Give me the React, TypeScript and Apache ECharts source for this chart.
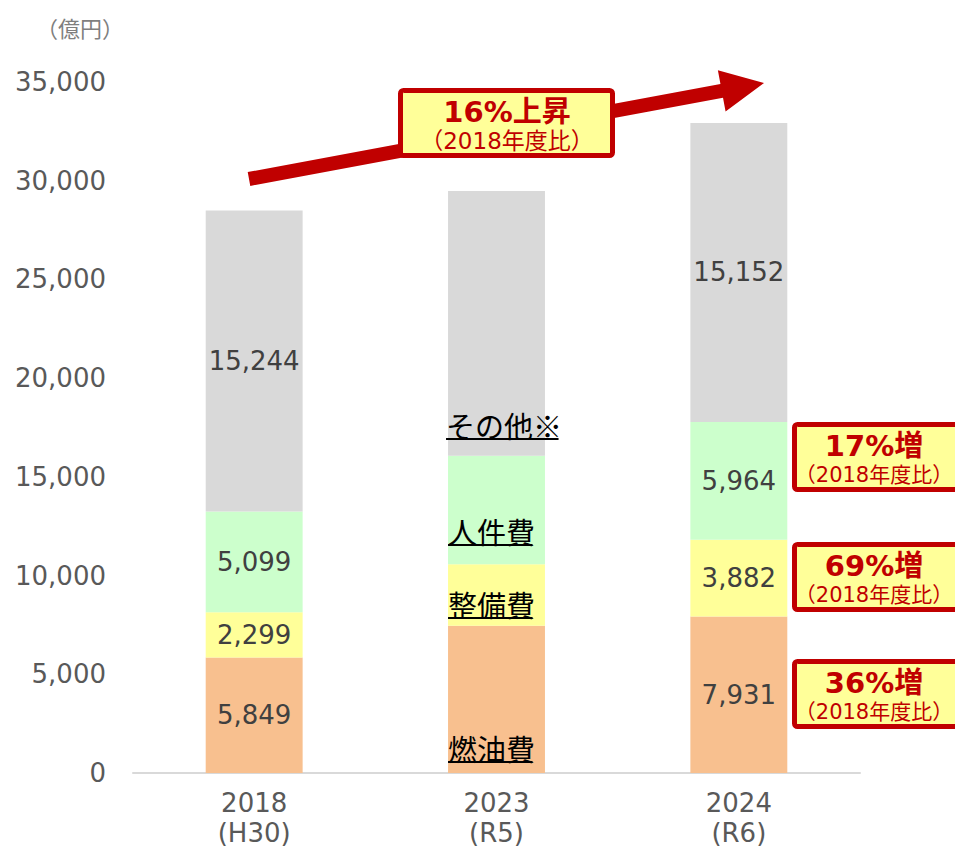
import React, { useEffect, useRef } from "react";
import * as echarts from "echarts";

const categories = ["2018\n(H30)", "2023\n(R5)", "2024\n(R6)"];
const seriesNames = ["燃油費", "整備費", "人件費", "その他※"];
const fuel = [5849, 7460, 7931];
const maintenance = [2299, 3110, 3882];
const labor = [5099, 5500, 5964];
const other = [15244, 13410, 15152];
const showValue = [true, false, true];
const yTicks = [0, 5000, 10000, 15000, 20000, 25000, 30000, 35000];

const unitLabel = "（億円）";
const topCallout = { main: "16%上昇", sub: "（2018年度比）" };
const sideCallouts = [
  { main: "17%増", sub: "（2018年度比）" },
  { main: "69%増", sub: "（2018年度比）" },
  { main: "36%増", sub: "（2018年度比）" },
];

const colors = ["#F8C08F", "#FFFF99", "#CCFFCC", "#D9D9D9"];
const LATIN = "'DejaVu Sans', 'Noto Sans CJK JP', sans-serif";
const CJK = "'Noto Sans CJK JP', sans-serif";
const RED = "#C00000";

export default function App() {
  const ref = useRef<HTMLDivElement>(null);
  useEffect(() => {
    if (!ref.current) return;
    const chart = echarts.init(ref.current, undefined, { renderer: "svg" });
    const values = [fuel, maintenance, labor, other];
    const series = values.map((arr, si) => ({
      name: seriesNames[si],
      type: "bar",
      stack: "total",
      barWidth: "40%",
      itemStyle: { color: colors[si] },
      data: arr.map((v, i) => ({
        value: v,
        label: {
          show: showValue[i],
          position: "inside",
          formatter: (p: any) => Number(p.value).toLocaleString("en-US"),
          color: "#404040",
          fontSize: 26,
          fontFamily: LATIN,
        },
      })),
    }));
    chart.setOption({
      animation: false,
      grid: {
        left: 133,
        right: 95,
        top: 82,
        bottom: 75,
        containLabel: false,
        outerBoundsMode: "none",
      },
      xAxis: {
        type: "category",
        data: categories,
        axisLine: { lineStyle: { color: "#D9D9D9", width: 2 } },
        axisTick: { show: false },
        axisLabel: {
          color: "#595959",
          fontSize: 26,
          lineHeight: 30,
          margin: 15,
          fontFamily: LATIN,
        },
      },
      yAxis: {
        type: "value",
        min: yTicks[0],
        max: yTicks[yTicks.length - 1],
        interval: yTicks[1] - yTicks[0],
        splitLine: { show: false },
        axisLine: { show: false },
        axisTick: { show: false },
        axisLabel: {
          color: "#595959",
          fontSize: 26,
          margin: 27,
          fontFamily: LATIN,
          formatter: (v: number) => v.toLocaleString("en-US"),
        },
      },
      series,
    });

    // annotations
    const c0 = chart.convertToPixel({ xAxisIndex: 0 }, 0) as number;
    const c1 = chart.convertToPixel({ xAxisIndex: 0 }, 1) as number;
    const band = c1 - c0;
    const barLeft2023 = c1 - band * 0.2;
    const catFont = 29;
    const catLabelY = [748, 604, 531, 425];
    const catLabelDx = [0, 0, 0, -2];
    const graphic: any[] = [];
    const Z = 100;

    graphic.push({
      type: "text",
      x: 36,
      y: 27,
      z: Z,
      silent: true,
      style: {
        text: unitLabel,
        fill: "#7F7F7F",
        fontSize: 22,
        fontFamily: CJK,
        textVerticalAlign: "middle",
      },
    });

    seriesNames.forEach((name, i) => {
      const x = barLeft2023 + catLabelDx[i];
      const y = catLabelY[i];
      graphic.push({
        type: "text",
        x,
        y,
        z: Z,
        silent: true,
        style: {
          text: name,
          fill: "#000000",
          fontSize: catFont,
          fontFamily: CJK,
          textVerticalAlign: "middle",
        },
      });
      graphic.push({
        type: "line",
        silent: true,
        z: Z,
        shape: { x1: x, y1: y + 14, x2: x + name.length * catFont * 0.97, y2: y + 14 },
        style: { stroke: "#000000", lineWidth: 2 },
      });
    });

    // arrow
    const sx = 249, sy = 179, tx = 764, ty = 83;
    const len = Math.hypot(tx - sx, ty - sy);
    const ux = (tx - sx) / len, uy = (ty - sy) / len;
    const nx = -uy, ny = ux;
    const headLen = 43, headHalf = 21, shaftHalf = 7;
    const bx = tx - headLen * ux, by = ty - headLen * uy;
    graphic.push({
      type: "polygon",
      silent: true,
      z: Z,
      shape: {
        points: [
          [sx - shaftHalf * nx, sy - shaftHalf * ny],
          [bx - shaftHalf * nx, by - shaftHalf * ny],
          [bx - headHalf * nx, by - headHalf * ny],
          [tx, ty],
          [bx + headHalf * nx, by + headHalf * ny],
          [bx + shaftHalf * nx, by + shaftHalf * ny],
          [sx + shaftHalf * nx, sy + shaftHalf * ny],
        ],
      },
      style: { fill: RED },
    });

    const box = (x: number, y: number, w: number, h: number, main: string, sub: string, cx: number, subSize: number) => {
      graphic.push({
        type: "rect",
        silent: true,
        z: Z + 1,
        shape: { x: x + 2.5, y: y + 2.5, width: w - 5, height: h - 5, r: 3 },
        style: { fill: "#FFFF99", stroke: RED, lineWidth: 5 },
      });
      graphic.push({
        type: "text",
        silent: true,
        z: Z + 2,
        x: cx,
        y: y + 24,
        style: {
          text: main,
          fill: RED,
          fontSize: 29,
          fontWeight: "bold",
          fontFamily: LATIN,
          textAlign: "center",
          textVerticalAlign: "middle",
        },
      });
      graphic.push({
        type: "text",
        silent: true,
        z: Z + 2,
        x: cx,
        y: y + 53,
        style: {
          text: sub,
          fill: RED,
          fontSize: subSize,
          fontFamily: LATIN,
          textAlign: "center",
          textVerticalAlign: "middle",
        },
      });
    };
    box(398, 88, 217, 70, topCallout.main, topCallout.sub, 507, 23);
    const sideTops = [422, 542, 659];
    sideCallouts.forEach((c, i) => box(792, sideTops[i], 175, 70, c.main, c.sub, 874, 21));

    chart.setOption({ graphic });
    return () => chart.dispose();
  }, []);
  return (
    <div
      ref={ref}
      style={{ position: "fixed", left: 0, top: 0, width: 955, height: 848, background: "#fff" }}
    />
  );
}
